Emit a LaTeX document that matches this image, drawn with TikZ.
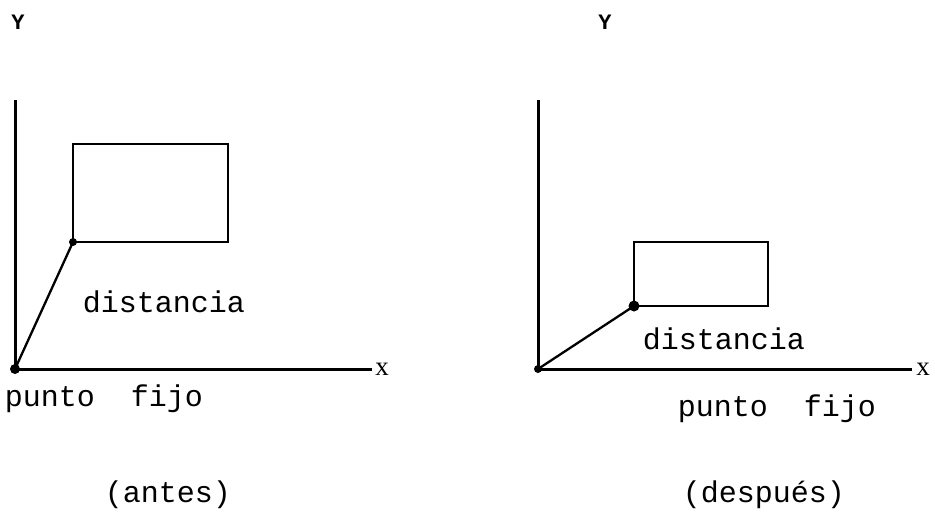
\documentclass[tikz,border=0pt]{standalone}
\usepackage{fontspec}
\setmonofont{Liberation Mono}
\newfontfamily\xfont{Liberation Serif}
\usetikzlibrary{calc}

\begin{document}
\begin{tikzpicture}[x=1pt,y=-1pt]
\tikzset{axisline/.style={line width=3pt},boxline/.style={line width=2.3pt},
  lbl/.style={font=\ttfamily\fontsize{30}{34}\selectfont,inner sep=0pt},
  ylbl/.style={font=\ttfamily\bfseries\fontsize{22}{26}\selectfont,inner sep=0pt},
  xlbl/.style={font=\xfont\fontsize{27}{30}\selectfont,inner sep=0pt}}
\useasboundingbox (0,0) rectangle (935,515);
% antes
\coordinate (O1) at (15,369); \coordinate (Y1) at (15,100); \coordinate (X1) at (372,369); \coordinate (P1) at (73,242);
\draw[axisline] (Y1)--(O1)--(X1);
\draw[boxline] (P1) rectangle (228,144);
\draw[line width=2.3pt] (O1)--(P1);
\fill (P1) circle (4); \fill (O1) circle (5);
\node[ylbl] (ya) at (18,22) {Y};
\node[xlbl] (xa) at (382,369) {x};
\node[lbl] (da) at (164,302) {distancia};
\node[lbl] (pa) at (104,399) {punto\ \ fijo};
\node[lbl] (ta) at (168,495) {(antes)};
% despues
\coordinate (O2) at (538,369); \coordinate (Y2) at (538,100); \coordinate (X2) at (912,369); \coordinate (P2) at (634,306);
\draw[axisline] (Y2)--(O2)--(X2);
\draw[boxline] (P2) rectangle (768,242);
\draw[line width=2.3pt] (O2)--(P2);
\fill (P2) circle (5.5); \fill (O2) circle (4);
\node[ylbl] (yd) at (605,22) {Y};
\node[xlbl] (xd) at (923,369) {x};
\node[lbl] (dd) at (724,339) {distancia};
\node[lbl] (pd) at (777,409) {punto\ \ fijo};
\node[lbl] (td) at (764,495) {(después)};
\end{tikzpicture}
\end{document}
